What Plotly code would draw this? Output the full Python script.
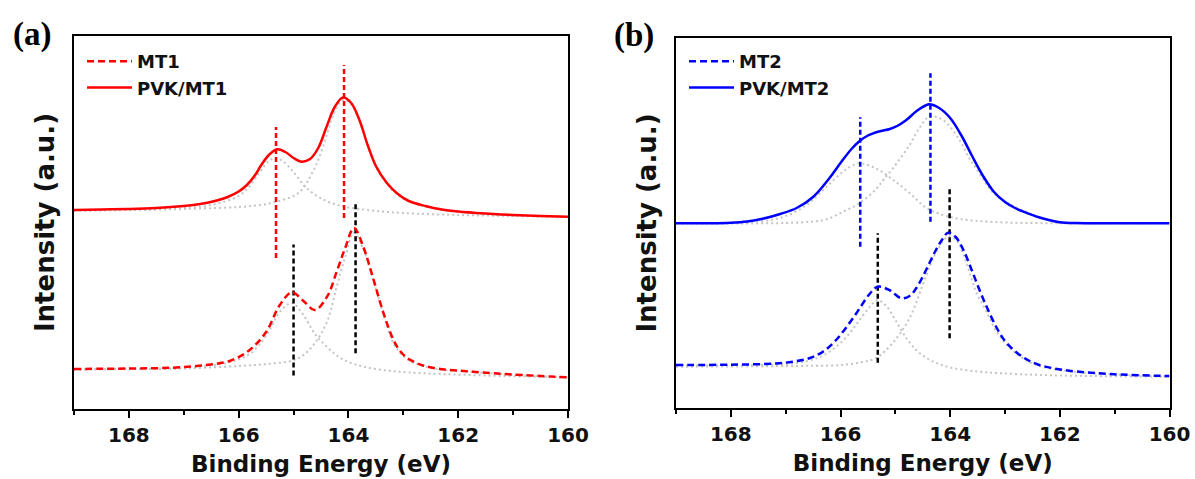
import plotly.graph_objects as go

# ---------------- Panel (a) ----------------
e_pvk_mt1 = [169.0, 168.5, 168.0, 167.5, 167.0, 166.7, 166.4, 166.2, 166.0, 165.85, 165.7, 165.6, 165.45,
             165.3, 165.15, 165.0, 164.85, 164.7, 164.55, 164.4, 164.25, 164.1, 163.95, 163.8, 163.65,
             163.5, 163.3, 163.1, 162.9, 162.6, 162.3, 162.0, 161.5, 161.0, 160.5, 160.0]
i_pvk_mt1 = [199, 199.5, 200, 201, 203, 205, 208.5, 212, 217.5, 224, 234, 243, 254,
             259.7, 257, 251, 247.3, 250, 261, 282, 302, 311.5, 306, 289, 264,
             243, 226, 215, 208, 203, 199.5, 197.5, 195.5, 194, 193, 192.3]

e_pvk_mt1_c1 = [169.0, 168.0, 167.0, 166.5, 166.0, 165.8, 165.6, 165.45, 165.33, 165.2, 165.0, 164.8, 164.6,
                164.4, 164.2, 164.0, 163.8, 163.5, 163.0, 162.0, 161.0, 160.0]
i_pvk_mt1_c1 = [198.5, 199, 201, 204, 213, 223, 238, 248, 251, 248, 237, 223, 214,
                208, 204, 201.5, 200, 198, 196, 194, 193, 192]

e_pvk_mt1_c2 = [169.0, 168.0, 167.0, 166.0, 165.6, 165.33, 165.0, 164.85, 164.7, 164.55, 164.4, 164.25, 164.1,
                163.95, 163.8, 163.65, 163.5, 163.3, 163.1, 162.9, 162.6, 162.3, 162.0, 161.5, 161.0, 160.5, 160.0]
i_pvk_mt1_c2 = [198.5, 199, 200, 202, 204, 207, 213, 219, 232, 249, 273, 297.5, 309,
                304.5, 288, 263, 242, 225, 214, 207.5, 202.5, 199, 197, 195, 193.5, 192.7, 192]

e_mt1 = [169.0, 168.0, 167.2, 166.6, 166.15, 165.8, 165.5, 165.25, 165.03, 164.82, 164.61, 164.39, 164.21,
         164.06, 163.9, 163.73, 163.55, 163.36, 163.18, 163.06, 162.94, 162.8, 162.64, 162.33, 161.73,
         161.0, 160.0]
i_mt1 = [40, 40.5, 41.3, 44, 48.3, 59, 77, 104, 116.7, 108, 99, 112.3, 138,
         161, 181, 162.3, 130.7, 95.7, 69, 58, 51.5, 47, 43.5, 40, 37.3,
         34.5, 31.7]

e_mt1_c1 = [169.0, 168.0, 167.2, 166.6, 166.15, 165.8, 165.5, 165.25, 165.03, 164.82, 164.61, 164.39, 164.2,
            164.0, 163.7, 163.3, 162.9, 162.3, 161.5, 160.0]
i_mt1_c1 = [39.5, 40, 40.5, 43, 47, 55, 73, 97, 106, 94, 75, 62, 53,
            47, 42, 38.5, 36.5, 35, 33.5, 31.5]

e_mt1_c2 = [169.0, 168.0, 167.0, 166.0, 165.5, 165.03, 164.82, 164.61, 164.39, 164.21, 164.06, 163.9, 163.73,
            163.55, 163.36, 163.18, 162.94, 162.64, 162.33, 161.73, 161.0, 160.0]
i_mt1_c2 = [39.5, 40, 40.5, 43, 45, 48.3, 54, 66, 87.3, 123, 152, 176, 160,
            129, 94.5, 66, 50, 43, 39.5, 37, 34.3, 31.5]

# peak markers (position, low, high)
pk_pvk_mt1 = [165.32, 164.08]
pk_pvk_mt1_lo = [151, 191]
pk_pvk_mt1_hi = [282, 344]
pk_mt1 = [165.0, 163.87]
pk_mt1_lo = [33.5, 55.7]
pk_mt1_hi = [164.5, 207.3]

# ---------------- Panel (b) ----------------
e_pvk_mt2 = [169.0, 168.4, 168.0, 167.7, 167.4, 167.1, 166.8, 166.5, 166.2, 166.0, 165.8, 165.65, 165.5,
             165.3, 165.1, 164.95, 164.8, 164.6, 164.45, 164.38, 164.2, 164.0, 163.8, 163.6, 163.4,
             163.2, 163.0, 162.8, 162.6, 162.4, 162.2, 162.0, 161.7, 161.0, 160.0]
i_pvk_mt2 = [184.7, 184.7, 185.2, 186.5, 189.5, 194, 200, 211, 230, 245, 259, 267, 272.5,
             276.5, 279, 282.5, 288, 297.5, 302.5, 303.7, 300, 290, 273, 252, 232,
             216, 206, 199.5, 195, 191, 188, 185.8, 184.9, 184.7, 184.7]

e_pvk_mt2_c1 = [169.0, 167.78, 167.18, 166.87, 166.57, 166.26, 165.96, 165.8, 165.65, 165.5, 165.3, 165.04,
                164.74, 164.43, 164.13, 163.83, 163.2, 162.0, 160.0]
i_pvk_mt2_c1 = [184.7, 185.5, 189, 195, 205, 221, 236, 242, 244.7, 243, 238, 228,
                215, 200, 193, 189, 186, 184.7, 184.7]

e_pvk_mt2_c2 = [169.0, 167.0, 166.5, 166.26, 165.96, 165.65, 165.35, 165.22, 165.04, 164.74, 164.56, 164.38,
                164.13, 163.83, 163.65, 163.53, 163.22, 162.92, 162.61, 162.31, 162.0, 161.0, 160.0]
i_pvk_mt2_c2 = [184.7, 185, 186.5, 188.5, 196, 205, 219, 228, 240, 263, 280, 291.3,
                288, 268, 249.5, 240, 215.5, 204, 196, 189.5, 185.3, 184.7, 184.7]

e_mt2 = [169.0, 168.0, 167.18, 166.87, 166.57, 166.32, 166.08, 165.84, 165.65, 165.47, 165.32, 165.11, 164.89,
         164.74, 164.62, 164.5, 164.38, 164.26, 164.13, 164.04, 163.9, 163.75, 163.6, 163.45, 163.3,
         163.15, 163.0, 162.8, 162.6, 162.4, 162.1, 161.7, 161.0, 160.0]
i_mt2 = [43, 43.3, 44.5, 46.3, 49.7, 56.3, 68, 84.7, 99.7, 114, 121.3, 118, 109.7,
         112, 119.7, 131.3, 144.7, 158, 169.7, 175.3, 171, 157, 137, 116, 97,
         80, 67, 56, 48.5, 43.5, 39.5, 36.5, 33.7, 32]

e_mt2_c1 = [169.0, 167.2, 166.6, 166.3, 166.0, 165.8, 165.65, 165.47, 165.32, 165.15, 165.0, 164.8, 164.6,
            164.4, 164.2, 164.0, 163.5, 163.0, 162.0, 160.0]
i_mt2_c1 = [42.5, 43.5, 47, 53, 65, 77, 88, 101, 108, 101, 88, 70, 57,
            49, 44, 40.5, 36.5, 34.5, 32.5, 31.3]

e_mt2_c2 = [169.0, 167.0, 166.0, 165.6, 165.35, 165.05, 164.74, 164.44, 164.26, 164.04, 163.89, 163.77, 163.65,
            163.53, 163.34, 163.16, 162.92, 162.61, 162.31, 161.7, 161.0, 160.0]
i_mt2_c2 = [41.3, 42, 43, 46, 50, 65, 90, 132, 155, 171.3, 168, 155, 136,
            116.5, 96.5, 77, 60.5, 47.5, 41, 36, 33.5, 31.5]

pk_pvk_mt2 = [165.64, 164.36]
pk_pvk_mt2_lo = [161.3, 186.3]
pk_pvk_mt2_hi = [290.7, 334.7]
pk_mt2 = [165.32, 164.01]
pk_mt2_lo = [45.3, 69.7]
pk_mt2_hi = [174.7, 219.7]

x_ticks = [168, 166, 164, 162, 160]
x_minor = [169, 167, 165, 163, 161]

RED = "#ff0000"
BLUE = "#0000ff"
GREY = "#c4c4c4"
FONT = "DejaVu Sans"

fig = go.Figure()


def curve(x, y, xa, ya, color, width, dash, name=None, legend="legend"):
    fig.add_trace(go.Scatter(
        x=x, y=y, xaxis=xa, yaxis=ya, mode="lines", name=name,
        line=dict(color=color, width=width, dash=dash, shape="spline", smoothing=1.0),
        showlegend=name is not None, legend=legend, hoverinfo="skip"))


def vlines(pos, lo, hi, xa, ya, color):
    for p, a, b in zip(pos, lo, hi):
        fig.add_trace(go.Scatter(
            x=[p, p], y=[a, b], xaxis=xa, yaxis=ya, mode="lines",
            line=dict(color=color, width=2.5, dash="5px,3px"),
            showlegend=False, hoverinfo="skip"))


# panel a
for e, i in [(e_pvk_mt1_c1, i_pvk_mt1_c1), (e_pvk_mt1_c2, i_pvk_mt1_c2),
             (e_mt1_c1, i_mt1_c1), (e_mt1_c2, i_mt1_c2)]:
    curve(e, i, "x", "y", GREY, 2, "2px,3px")
vlines(pk_pvk_mt1, pk_pvk_mt1_lo, pk_pvk_mt1_hi, "x", "y", RED)
vlines(pk_mt1, pk_mt1_lo, pk_mt1_hi, "x", "y", "#000000")
curve(e_mt1, i_mt1, "x", "y", RED, 2.5, "7px,4px", name="MT1", legend="legend")
curve(e_pvk_mt1, i_pvk_mt1, "x", "y", RED, 2.5, "solid", name="PVK/MT1", legend="legend")

# panel b
for e, i in [(e_pvk_mt2_c1, i_pvk_mt2_c1), (e_pvk_mt2_c2, i_pvk_mt2_c2),
             (e_mt2_c1, i_mt2_c1), (e_mt2_c2, i_mt2_c2)]:
    curve(e, i, "x2", "y2", GREY, 2, "2px,3px")
vlines(pk_pvk_mt2, pk_pvk_mt2_lo, pk_pvk_mt2_hi, "x2", "y2", BLUE)
vlines(pk_mt2, pk_mt2_lo, pk_mt2_hi, "x2", "y2", "#000000")
curve(e_mt2, i_mt2, "x2", "y2", BLUE, 2.5, "7px,4px", name="MT2", legend="legend2")
curve(e_pvk_mt2, i_pvk_mt2, "x2", "y2", BLUE, 2.5, "solid", name="PVK/MT2", legend="legend2")

W, H = 1195, 479

xcommon = dict(
    range=[169, 160], tickmode="array", tickvals=x_ticks, ticks="outside", ticklen=7, tickwidth=1.5,
    tickcolor="#000", showline=True, linecolor="#000", linewidth=1.5, mirror=True, showgrid=False,
    zeroline=False, tickfont=dict(family=FONT, size=20, color="#111", weight="bold"),
    minor=dict(tickvals=x_minor, ticks="outside", ticklen=4, tickwidth=1.5, tickcolor="#000"),
    title=dict(text="Binding Energy (eV)", font=dict(family=FONT, size=23, color="#111", weight="bold"),
               standoff=10),
    automargin=False, fixedrange=True)
ycommon = dict(
    showticklabels=False, ticks="", showline=True, linecolor="#000", linewidth=1.5, mirror=True,
    showgrid=False, zeroline=False,
    title=dict(text="Intensity (a.u.)", font=dict(family=FONT, size=26, color="#111", weight="bold"),
               standoff=10),
    automargin=False, fixedrange=True)

legend_font = dict(family=FONT, size=18, color="#111", weight="bold")

fig.update_layout(
    width=W, height=H, margin=dict(l=0, r=0, t=0, b=0),
    paper_bgcolor="white", plot_bgcolor="white", template="none",
    xaxis=dict(xcommon, domain=[74 / W, 568 / W], anchor="y"),
    yaxis=dict(ycommon, domain=[1 - 409 / H, 1 - 36 / H], range=[0, 373], anchor="x"),
    xaxis2=dict(xcommon, domain=[676 / W, 1169.5 / W], anchor="y2"),
    yaxis2=dict(ycommon, domain=[1 - 408 / H, 1 - 38 / H], range=[0, 370], anchor="x2"),
    legend=dict(x=82 / W, y=1 - 43 / H, xanchor="left", yanchor="top", bgcolor="rgba(0,0,0,0)",
                font=legend_font, itemwidth=45, tracegroupgap=0),
    legend2=dict(x=684 / W, y=1 - 43 / H, xanchor="left", yanchor="top", bgcolor="rgba(0,0,0,0)",
                 font=legend_font, itemwidth=45, tracegroupgap=0),
    annotations=[
        dict(text="(a)", x=32 / W, y=1 - 35 / H, xref="paper", yref="paper", showarrow=False,
             xanchor="center", yanchor="middle",
             font=dict(family="Liberation Serif", size=33, color="#000", weight="bold")),
        dict(text="(b)", x=634 / W, y=1 - 36 / H, xref="paper", yref="paper", showarrow=False,
             xanchor="center", yanchor="middle",
             font=dict(family="Liberation Serif", size=33, color="#000", weight="bold")),
    ],
)

fig.write_html("out.html")
